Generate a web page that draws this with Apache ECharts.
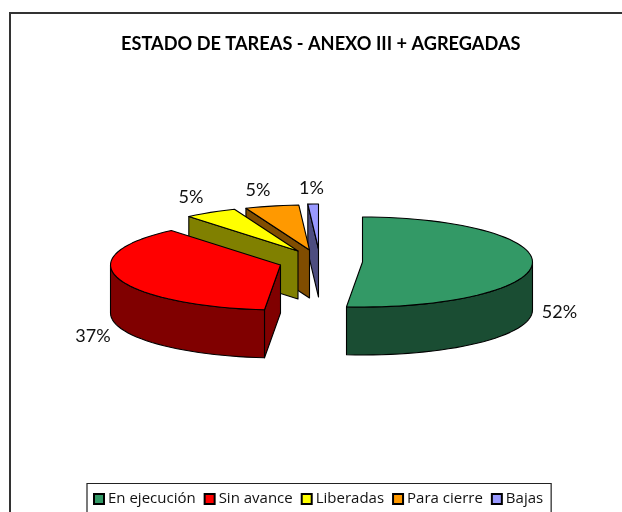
<!DOCTYPE html>
<html>
<head>
<meta charset="utf-8">
<style>html,body{margin:0;padding:0;background:#fff}#c{width:622px;height:512px}</style>
<script src="https://cdn.jsdelivr.net/npm/echarts@6/dist/echarts.min.js"></script>
</head>
<body>
<div id="c"></div>
<script>
const titleText = 'ESTADO DE TAREAS - ANEXO III + AGREGADAS';
const categories = ['En ejecución', 'Sin avance', 'Liberadas', 'Para cierre', 'Bajas'];
const values = [51.5, 37.4, 5.0, 5.1, 1.0];

const topColors = ['#339966', '#FF0000', '#FFFF00', '#FF9900', '#9999FF'];
const wallColors = ['#1A4D33', '#800000', '#808000', '#804D00', '#4D4D80'];
const apexX = [362.5, 280.5, 298, 309.5, 318.5];
const apexY = [262, 265, 251, 250, 249];
const labelX = [559.5, 93, 191, 258, 311.5];
const labelY = [312, 336, 197, 190.5, 188.5];
const RX = 170, RY = 45, DEPTH = 48;

const total = values.reduce((a, b) => a + b, 0);
function pt(i, deg, drop) {
  const r = deg * Math.PI / 180;
  return [apexX[i] + RX * Math.sin(r), apexY[i] - RY * Math.cos(r) + (drop || 0)];
}
function arc(i, a0, a1, drop) {
  const n = Math.max(2, Math.ceil((a1 - a0) / 3));
  const out = [];
  for (let k = 0; k <= n; k++) out.push(pt(i, a0 + (a1 - a0) * k / n, drop));
  return out;
}
function poly(points, fill) {
  return { type: 'polygon', shape: { points },
    style: { fill, stroke: '#000', lineWidth: 1.1, lineJoin: 'round' } };
}
function makeRender(i) {
  return function (params, api) {
    const v = api.value(0);
    let before = 0;
    for (let k = 0; k < i; k++) before += values[k];
    const a0 = before / total * 360;
    const a1 = a0 + v / total * 360;
    const apex = [apexX[i], apexY[i]];
    const apexLow = [apexX[i], apexY[i] + DEPTH];
    const kids = [];
    if (a0 > 180 && a0 < 360) {
      kids.push(poly([apex, pt(i, a0), pt(i, a0, DEPTH), apexLow], wallColors[i]));
    }
    if (a1 > 0 && a1 < 180) {
      kids.push(poly([apex, pt(i, a1), pt(i, a1, DEPTH), apexLow], wallColors[i]));
    }
    const r0 = Math.max(a0, 90), r1 = Math.min(a1, 270);
    if (r1 > r0) {
      const upper = arc(i, r0, r1, 0);
      const lower = arc(i, r0, r1, DEPTH).reverse();
      kids.push(poly(upper.concat(lower), wallColors[i]));
    }
    kids.push(poly([apex].concat(arc(i, a0, a1, 0)), topColors[i]));
    kids.push({ type: 'text', z2: 50,
      style: { x: labelX[i], y: labelY[i], text: Math.round(v / total * 100) + '%',
        fill: '#111', font: '18px Lato', align: 'center', verticalAlign: 'middle' } });
    return { type: 'group', children: kids };
  };
}
const zOrder = [5, 4, 3, 2, 1];
const series = categories.map((name, i) => ({
  type: 'custom', name, coordinateSystem: 'none', z: zOrder[i],
  silent: true, animation: false,
  itemStyle: { color: topColors[i], borderColor: '#000', borderWidth: 1 },
  renderItem: makeRender(i),
  data: [[values[i]]]
}));

const chart = echarts.init(document.getElementById('c'), null, { renderer: 'canvas' });
chart.setOption({
  animation: false,
  backgroundColor: '#fff',
  title: { text: titleText, left: 121, top: 35.5, padding: 0,
    textStyle: { fontFamily: 'Lato', fontWeight: 'bold', fontSize: 18.2, color: '#000' } },
  legend: {
    data: categories, left: 87, top: 483.5, orient: 'horizontal', icon: 'rect',
    itemWidth: 10, itemHeight: 10, itemGap: 8, padding: [8, 8, 14, 6],
    backgroundColor: '#fff', borderColor: '#222', borderWidth: 1.2,
    selectedMode: false,
    textStyle: { fontFamily: 'Open Sans', fontSize: 15, color: '#111', padding: [0, 0, 0, -1] }
  },
  graphic: [{ type: 'rect', z: -1, silent: true,
    shape: { x: 10, y: 13, width: 700, height: 600 },
    style: { fill: '#fff', stroke: '#333', lineWidth: 2 } }],
  series
});
</script>
</body>
</html>
